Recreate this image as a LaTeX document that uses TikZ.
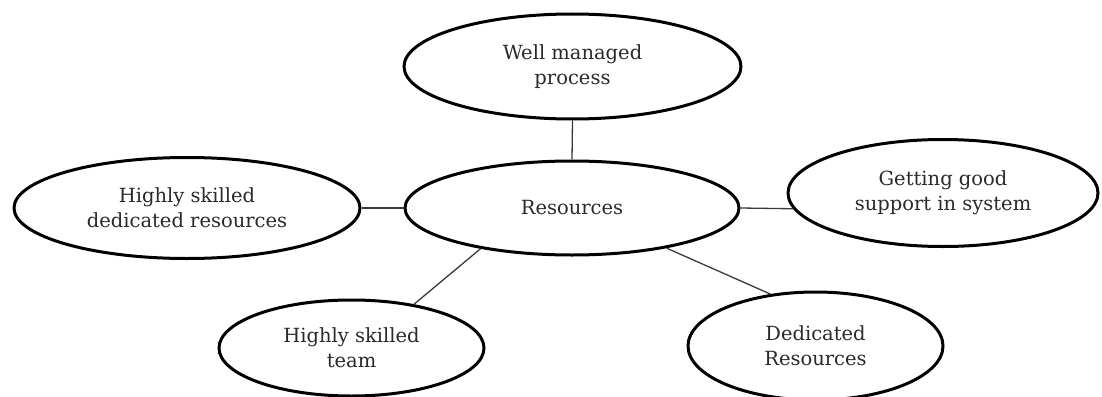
\documentclass[tikz,border=0pt]{standalone}
\usepackage{fontspec}
\setmainfont{DejaVu Serif}
\usetikzlibrary{shapes.geometric}
\definecolor{txt}{HTML}{2A2A2A}
\definecolor{conn}{HTML}{3A3A3A}
\begin{document}
\begin{tikzpicture}[x=1pt,y=-1pt,
  bubble/.style={ellipse,draw=black,line width=3pt,inner sep=0pt,
    text=txt,align=center,font=\fontsize{19.5}{25}\selectfont},
  link/.style={draw=conn,line width=1.3pt}]
\useasboundingbox[fill=white] (0,0) rectangle (1102,396);
\node[bubble,minimum width=337pt,minimum height=105pt] (top) at (572.5,66.5) {Well managed\\process};
\node[bubble,minimum width=334pt,minimum height=94pt] (res) at (572,208) {Resources};
\node[bubble,minimum width=346pt,minimum height=101pt] (left) at (187,208) {Highly skilled\\dedicated resources};
\node[bubble,minimum width=310pt,minimum height=107pt] (right) at (943,193) {Getting good\\support in system};
\node[bubble,minimum width=265pt,minimum height=96pt] (bl) at (351.5,348) {Highly skilled\\team};
\node[bubble,minimum width=255pt,minimum height=108pt] (br) at (815.5,346) {Dedicated\\Resources};
\draw[link] (top.south) -- (res.north);
\draw[link] (left.east) -- (res.west);
\draw[link] (res.east) -- (right.186.5);
\draw[link] (res.204) -- (bl.35);
\draw[link] (res.337.4) -- (br.131.3);
\end{tikzpicture}
\end{document}
